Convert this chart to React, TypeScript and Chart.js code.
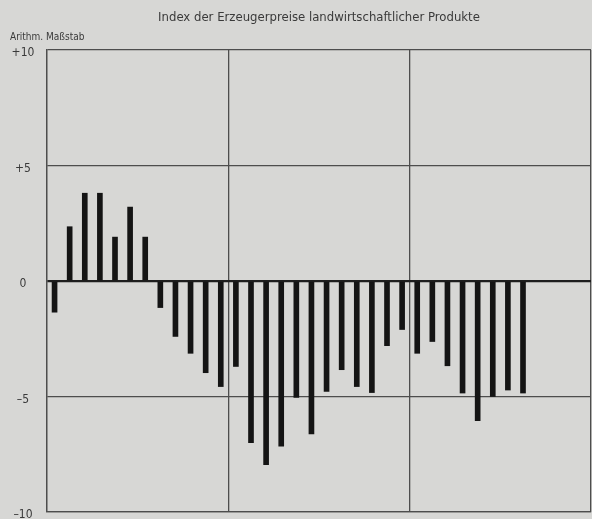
import { useEffect, useRef } from "react";
import { Chart, registerables } from "chart.js";

Chart.register(...registerables);

const TITLE = "Index der Erzeugerpreise landwirtschaftlicher Produkte";
const Y_AXIS_NOTE = "Arithm. Maßstab";

const MONTHS = ["Jan", "Feb", "Mär", "Apr", "Mai", "Jun", "Jul", "Aug", "Sep", "Okt", "Nov", "Dez"];
const YEARS = ["Jahr 1", "Jahr 2", "Jahr 3"];

// monthly change values (%)
const VALUES = [
  -1.35, 2.35, 3.8, 3.8, 1.9, 3.2, 1.9, -1.15, -2.4, -3.13, -3.97, -4.57,
  -3.7, -7.0, -7.95, -7.15, -5.04, -6.62, -4.78, -3.84, -4.57, -4.83, -2.8, -2.1,
  -3.13, -2.62, -3.67, -4.85, -6.05, -5.0, -4.72, -4.85,
];

const Y_TICKS = [10, 5, 0, -5, -10];
const Y_TICK_LABELS = ["+10", "+5", "0", "–5", "–10"];

const BG = "#d7d7d5";
const GRID = "#4d4d4d";
const ZERO = "#1e1e1e";
const BAR = "#141414";
const TEXT = "#3a3a3a";
const FONT = "'Liberation Sans Narrow', 'DejaVu Sans Condensed', 'Roboto', sans-serif";

export default function App() {
  const ref = useRef<HTMLCanvasElement | null>(null);

  useEffect(() => {
    if (!ref.current) return;
    const categories: string[] = [];
    YEARS.forEach((y) => MONTHS.forEach((m) => categories.push(`${m} ${y}`)));

    const decor = {
      id: "decor",
      beforeDraw(chart: any) {
        const { ctx, width, height } = chart;
        ctx.save();
        ctx.fillStyle = BG;
        ctx.fillRect(0, 0, width, height);
        ctx.restore();
      },
      afterDraw(chart: any) {
        const { ctx, chartArea } = chart;
        const yScale = chart.scales.y;
        ctx.save();
        ctx.fillStyle = TEXT;
        ctx.textBaseline = "middle";
        ctx.textAlign = "center";
        ctx.font = `13px ${FONT}`;
        ctx.fillText(TITLE, (chartArea.left + chartArea.right) / 2, 18);
        ctx.textAlign = "left";
        ctx.font = `10px ${FONT}`;
        ctx.fillText(Y_AXIS_NOTE, 10, 37);
        ctx.textAlign = "center";
        ctx.font = `12px ${FONT}`;
        Y_TICKS.forEach((v, i) => {
          ctx.fillText(Y_TICK_LABELS[i], 23, yScale.getPixelForValue(v) + 3);
        });
        ctx.restore();
      },
    };

    const chart = new Chart(ref.current, {
      type: "bar",
      data: {
        labels: categories,
        datasets: [
          {
            data: VALUES,
            backgroundColor: BAR,
            borderWidth: 0,
            barThickness: 5,
          },
        ],
      },
      options: {
        responsive: false,
        animation: false,
        devicePixelRatio: 1,
        layout: { padding: { left: 47, right: 1, top: 50, bottom: 7 } },
        plugins: {
          legend: { display: false },
          tooltip: { enabled: false },
          title: { display: false },
        },
        scales: {
          x: {
            type: "category",
            offset: true,
            grid: {
              offset: true,
              drawTicks: false,
              lineWidth: 1.3,
              color: (c: any) =>
                c.type !== "tick" || c.index % 12 === 0 ? GRID : "rgba(0,0,0,0)",
            },
            border: { display: true, color: GRID, width: 1.3 },
            ticks: { display: false },
            afterFit: (s: any) => {
              s.height = 0;
            },
          },
          y: {
            type: "linear",
            min: -10,
            max: 10,
            afterBuildTicks: (s: any) => {
              s.ticks = Y_TICKS.map((v) => ({ value: v }));
            },
            grid: {
              drawTicks: false,
              color: (c: any) => (c.tick && c.tick.value === 0 ? ZERO : GRID),
              lineWidth: (c: any) => (c.tick && c.tick.value === 0 ? 2.2 : 1.3),
            },
            border: { display: true, color: GRID, width: 1.3 },
            ticks: { display: false },
            afterFit: (s: any) => {
              s.width = 0;
            },
          },
        },
      },
      plugins: [decor],
    });
    return () => chart.destroy();
  }, []);

  return (
    <div style={{ position: "absolute", left: 0, top: 0, width: 592, height: 519 }}>
      <canvas ref={ref} width={592} height={519} style={{ display: "block" }} />
    </div>
  );
}
